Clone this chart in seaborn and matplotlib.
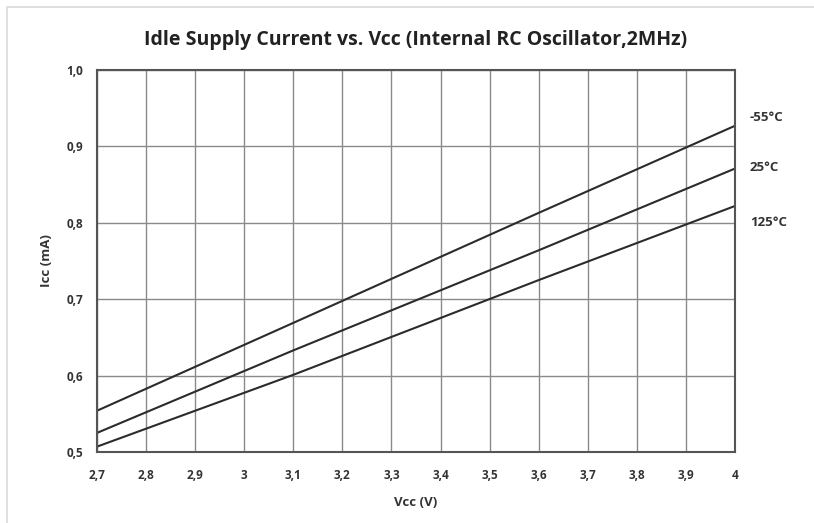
import pandas as pd
import matplotlib.pyplot as plt
import seaborn as sns
from matplotlib.patches import Rectangle
from matplotlib.ticker import FuncFormatter

# values
vcc = [2.7, 3.1, 3.6, 4.0]
icc_m55 = [0.554, 0.669, 0.813, 0.927]
icc_25 = [0.525, 0.633, 0.764, 0.871]
icc_125 = [0.507, 0.601, 0.725, 0.822]
temps = ["-55°C", "25°C", "125°C"]

df = pd.DataFrame({
    "Vcc": vcc * 3,
    "Icc": icc_m55 + icc_25 + icc_125,
    "temp": [t for t in temps for _ in vcc],
})

sns.set_style("white")
plt.rcParams["font.family"] = ["Open Sans", "DejaVu Sans"]

fig = plt.figure(figsize=(8.14, 5.23), dpi=100)
ax = fig.add_axes([0.1192, 0.1358, 0.7838, 0.7304])

# light frame round the whole picture
fig.patches.append(Rectangle((0.008, -0.01), 1.2, 0.996, transform=fig.transFigure,
                             fill=False, edgecolor="#d9d9d9", linewidth=1.2))

sns.lineplot(data=df, x="Vcc", y="Icc", hue="temp", hue_order=temps,
             palette=["#2b2b2b"] * 3, linewidth=1.5, legend=False, ax=ax)

ax.set_xlim(2.7, 4.0)
ax.set_ylim(0.5, 1.0)
ax.set_xticks([2.7 + 0.1 * i for i in range(14)])
ax.set_yticks([0.5, 0.6, 0.7, 0.8, 0.9, 1.0])
ax.xaxis.set_major_formatter(FuncFormatter(
    lambda v, p: "4" if abs(v - 4) < 1e-6 else ("3" if abs(v - 3) < 1e-6 else f"{v:.1f}".replace(".", ","))))
ax.yaxis.set_major_formatter(FuncFormatter(lambda v, p: f"{v:.1f}".replace(".", ",")))
ax.grid(True, color="#8a8a8a", linewidth=1.0)
ax.tick_params(axis="both", length=0, labelsize=8.5)
ax.tick_params(axis="x", pad=12)
ax.tick_params(axis="y", pad=10)
for lbl in ax.get_xticklabels() + ax.get_yticklabels():
    lbl.set_fontweight("bold")
    lbl.set_color("#333333")
for s in ax.spines.values():
    s.set_visible(True)
    s.set_color("#555555")
    s.set_linewidth(1.5)

ax.set_xlabel("Vcc (V)", fontsize=9.5, fontweight="bold", color="#333333", labelpad=10)
ax.set_ylabel("Icc (mA)", fontsize=9.5, fontweight="bold", color="#333333", labelpad=10)
ax.set_title("Idle Supply Current vs. Vcc (Internal RC Oscillator,2MHz)",
             fontsize=14, fontweight="bold", color="#222222", pad=18)

# series labels at the right edge
for t, y in zip(temps, [0.938, 0.873, 0.80]):
    ax.text(4.03, y, t, fontsize=9.5, fontweight="bold", color="#333333",
            va="center", ha="left", clip_on=False)

fig.savefig("out.png", dpi=100)
